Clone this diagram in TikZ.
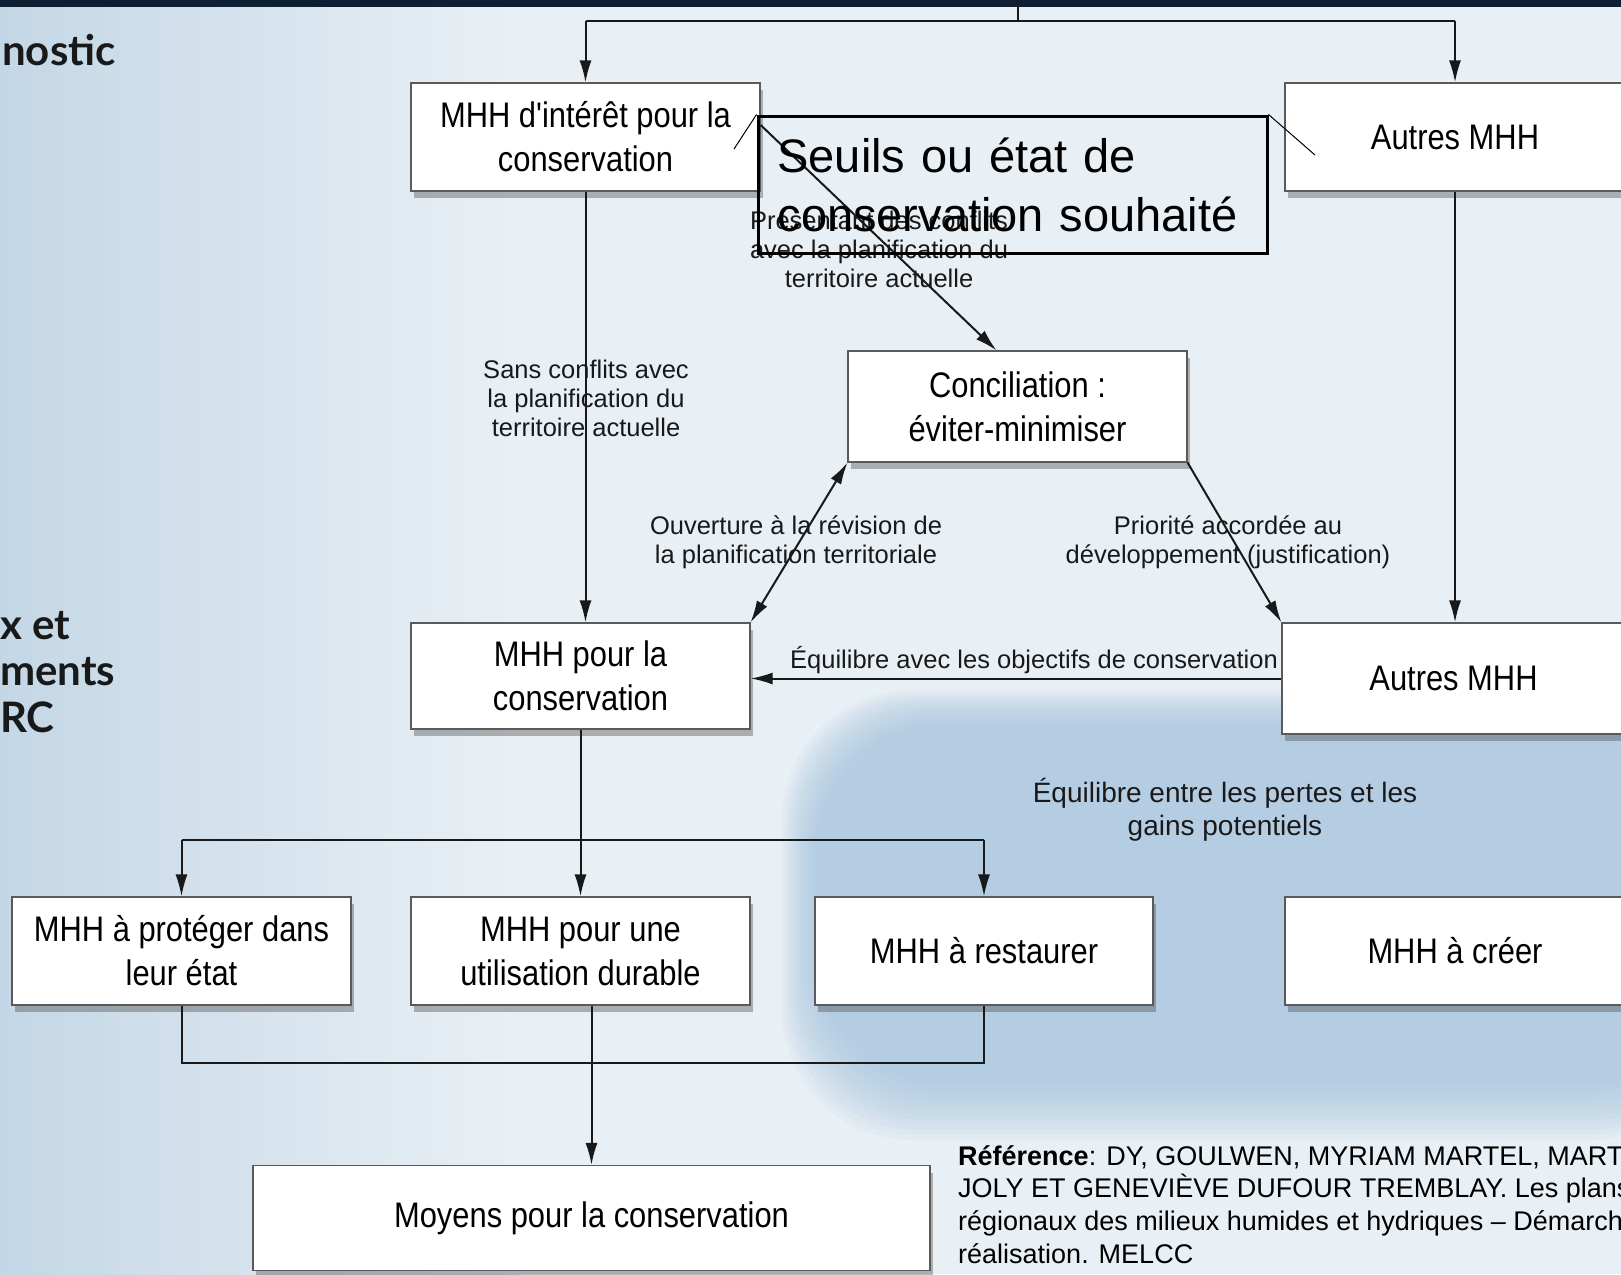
\documentclass[tikz,border=0pt]{standalone}
\usepackage{fontspec}
\setmainfont{Liberation Sans}
\newfontfamily\boxfont[FakeStretch=0.87]{Liberation Sans}
\newfontfamily\sidefont{Lato}
\usetikzlibrary{arrows.meta,shadows,calc}
\definecolor{bgmain}{HTML}{E9F0F5}
\definecolor{bgleft}{HTML}{C4D7E6}
\definecolor{topband}{HTML}{0E1F33}
\definecolor{blobblue}{HTML}{A2C3DD}
\definecolor{boxline}{HTML}{5A5A5A}
\begin{document}
\begin{tikzpicture}[x=1pt,y=-1pt,
  box/.style={draw=boxline, line width=1.2pt, fill=white, inner sep=0pt, align=center,
    font=\boxfont\fontsize{35.5}{44}\selectfont,
    drop shadow={opacity=0.4, shadow xshift=3pt, shadow yshift=-7pt, fill=black!70}},
  lab/.style={inner sep=0pt, align=center, text=black!90, font=\fontsize{25.5}{29}\selectfont},
  side/.style={inner sep=0pt, align=left, text=black!90, font=\sidefont\bfseries\fontsize{42}{46.5}\selectfont},
  conn/.style={line width=2pt, draw=black!90},
  arr/.style={conn, -{Latex[length=22pt,width=12pt]}},
  dblarr/.style={conn, {Latex[length=22pt,width=12pt]}-{Latex[length=22pt,width=12pt]}},
]
\useasboundingbox (0,0) rectangle (1621,1274);
\clip (0,0) rectangle (1621,1274);
% background
\fill[bgmain] (0,0) rectangle (1621,1274);
\shade[left color=bgleft, right color=bgmain] (0,0) rectangle (520,1274);
\foreach \i in {0,...,11} {
  \fill[blobblue, opacity=0.09, rounded corners=130pt]
    ({782+\i*3},{690+\i*3}) rectangle (1720,{1140-\i*5});
}
\fill[topband] (0,0) rectangle (1621,7);

% side texts
\node[side, anchor=west] (s1) at (2,50) {nostic};
\node[side, anchor=west] (s2) at (0,672) {x et\\ments\\RC};

% boxes
\node[box, minimum width=349pt, minimum height=108pt] (A) at (585.5,137) {MHH d'intérêt pour la\\conservation};
\node[box, minimum width=340pt, minimum height=108pt] (B) at (1455,137) {Autres MHH};
\node[box, minimum width=339pt, minimum height=111pt] (D) at (1017.5,406.5) {Conciliation :\\éviter-minimiser};
\node[box, minimum width=339pt, minimum height=106pt] (C) at (580.5,676) {MHH pour la\\conservation};
\node[box, minimum width=343pt, minimum height=111pt] (B2) at (1453.5,678.5) {Autres MHH};
\node[box, minimum width=339pt, minimum height=108pt] (E1) at (181.5,951) {MHH à protéger dans\\leur état};
\node[box, minimum width=339pt, minimum height=108pt] (E2) at (580.5,951) {MHH pour une\\utilisation durable};
\node[box, minimum width=338pt, minimum height=108pt] (E3) at (984,951) {MHH à restaurer};
\node[box, minimum width=340pt, minimum height=108pt] (E4) at (1455,951) {MHH à créer};
\node[box, minimum width=677pt, minimum height=105pt] (F) at (591.5,1218) {Moyens pour la conservation};

% connectors
\coordinate (top) at (1018,0);
\coordinate (tj) at (1018,21);
\draw[conn] (top) -- (tj);
\draw[conn, line width=2.6pt] (A.north |- tj) -- (B.north |- tj);
\draw[arr] (A.north |- tj) -- (A.north);
\draw[arr] (B.north |- tj) -- (B.north);
\draw[arr] (A.south) -- (A.south |- C.north);
\draw[arr] (B.south) -- (B.south |- B2.north);
\draw[arr] ($(A.east)+(0,-12)$) -- ($(D.north)+(-21,0)$);
\draw[dblarr] (C.north east) -- (D.south west);
\draw[arr] (D.south east) -- (B2.north west);
\draw[arr] (B2.west) -- (B2.west -| C.east);
\path (C.south) ++(0,110) coordinate (j1);
\draw[conn] (C.south) -- (j1);
\draw[arr] (j1) -- (E2.north);
\draw[conn] (j1 -| E1.north) -- (j1 -| E3.north);
\draw[arr] (j1 -| E1.north) -- (E1.north);
\draw[arr] (j1 -| E3.north) -- (E3.north);
\path (F.north) ++(0,-102) coordinate (j2);
\draw[conn] (E1.south) -- (E1.south |- j2) -- (E3.south |- j2) -- (E3.south);
\draw[arr] (E2.south -| j2) -- (F.north);

% labels
\node[lab] (L1) at (879,249) {Présentant des conflits\\avec la planification du\\territoire actuelle};
\node[lab] (L2) at (586,398) {Sans conflits avec\\la planification du\\territoire actuelle};
\node[lab] (L3) at (796,542) {Ouverture à la révision de\\la planification territoriale};
\node[lab] (L4) at (1228,542) {Priorité accordée au\\développement (justification)};
\node[lab] (L5) at (1034,660) {Équilibre avec les objectifs de conservation};
\node[lab, font=\fontsize{28}{33}\selectfont] (L6) at (1225,810) {Équilibre entre les pertes et les\\gains potentiels};

% reference
\node[anchor=north west, align=left, inner sep=0pt, font=\fontsize{27}{32.7}\selectfont] (ref) at (958,1145)
  {\textbf{Référence}: DY, GOULWEN, MYRIAM MARTEL, MARTI\\JOLY ET GENEVIÈVE DUFOUR TREMBLAY. Les plans\\régionaux des milieux humides et hydriques – Démarche\\réalisation. MELCC};

% callout
\node[draw=black, line width=3pt, minimum width=509pt, minimum height=137pt, text width=470pt,
  align=left, inner sep=0pt, font=\fontsize{47}{59}\selectfont] (callout) at (1012.5,184.5)
  {Seuils ou état de\\conservation souhaité};
\coordinate (cl) at (734,149);
\coordinate (cr) at (1315,155);
\draw[line width=1pt] (callout.north west) -- (cl);
\draw[line width=1pt] (callout.north east) -- (cr);
\end{tikzpicture}
\end{document}
